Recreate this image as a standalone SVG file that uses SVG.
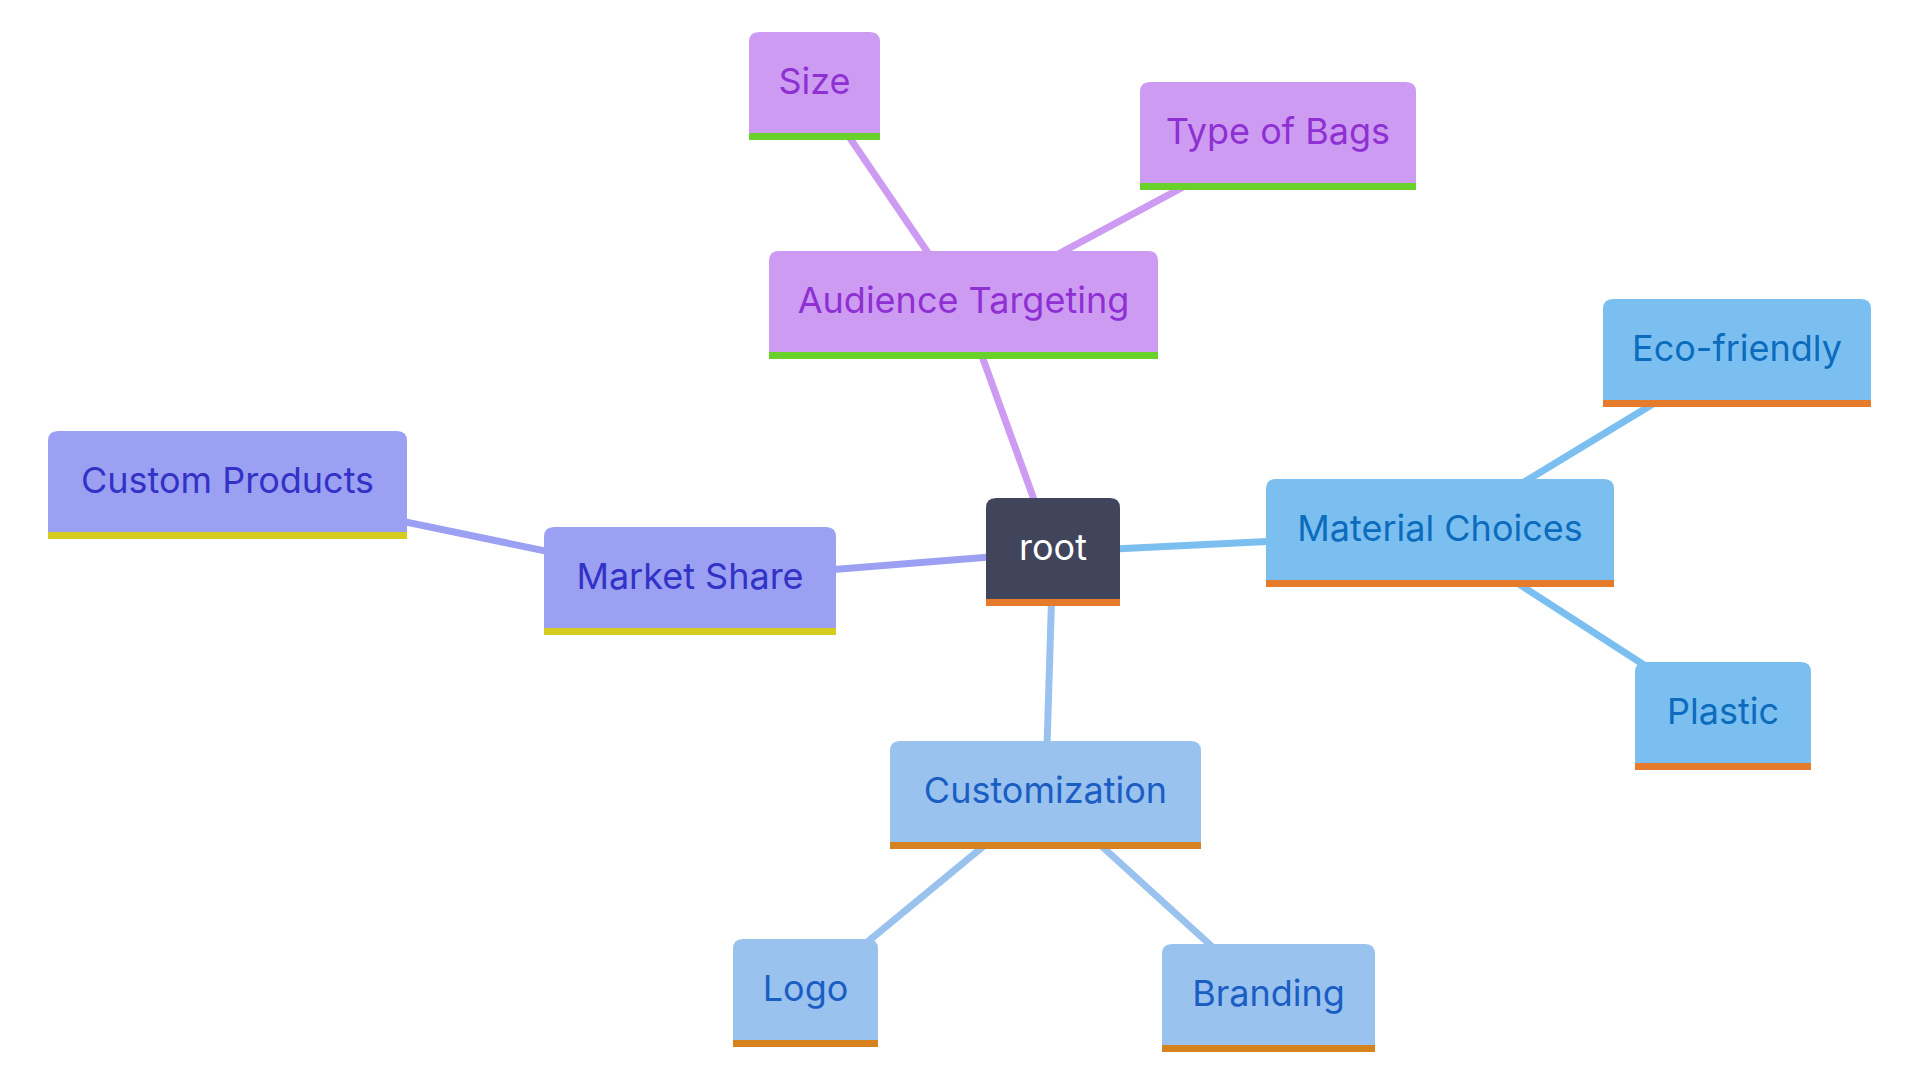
<svg xmlns="http://www.w3.org/2000/svg" width="1920" height="1080" viewBox="0 0 1920 1080">
<style>
text{font-family:Inter,"Noto Sans","Liberation Sans",sans-serif;font-size:36px;text-anchor:middle}
.edge{fill:none;stroke-width:7;stroke-linecap:butt}
.e-purple{stroke:#CD9CF2}
.e-blue{stroke:#7BBFF0}
.e-lblue{stroke:#9AC2EE}
.e-indigo{stroke:#9BA0F2}
.purple .bg{fill:#CD9CF2}.purple .bar{fill:#69D12A}.purple text{fill:#8E30D2}
.blue .bg{fill:#7BBFF0}.blue .bar{fill:#E67B2B}.blue text{fill:#0B6CBD}
.lblue .bg{fill:#9AC2EE}.lblue .bar{fill:#D5821F}.lblue text{fill:#1A5EC4}
.indigo .bg{fill:#9BA0F2}.indigo .bar{fill:#D6CB1F}.indigo text{fill:#3232C6}
.root .bg{fill:#41455C}.root .bar{fill:#E67B2B}.root text{fill:#FFFFFF}
</style>
<rect width="1920" height="1080" fill="#FFFFFF"/>
<g id="connectors">
<line class="edge e-purple" x1="1053" y1="552" x2="963.5" y2="305"/>
<line class="edge e-purple" x1="963.5" y1="305" x2="814.5" y2="86"/>
<line class="edge e-purple" x1="963.5" y1="305" x2="1278" y2="136"/>
<line class="edge e-blue" x1="1053" y1="552" x2="1440" y2="533"/>
<line class="edge e-blue" x1="1440" y1="533" x2="1737" y2="353"/>
<line class="edge e-blue" x1="1440" y1="533" x2="1723" y2="716"/>
<line class="edge e-lblue" x1="1053" y1="552" x2="1045.5" y2="795"/>
<line class="edge e-lblue" x1="1045.5" y1="795" x2="805.5" y2="993"/>
<line class="edge e-lblue" x1="1045.5" y1="795" x2="1268.5" y2="998"/>
<line class="edge e-indigo" x1="1053" y1="552" x2="690" y2="581"/>
<line class="edge e-indigo" x1="690" y1="581" x2="227.5" y2="485"/>
</g>
<g id="node-root" class="root" transform="translate(986,498)">
<path class="bg" d="M0,101V10Q0,0 10,0H124Q134,0 134,10V101Z"/>
<rect class="bar" x="0" y="101" width="134" height="7"/>
<text x="67" y="62">root</text>
</g>
<g id="node-audience" class="purple" transform="translate(769,251)">
<path class="bg" d="M0,101V10Q0,0 10,0H379Q389,0 389,10V101Z"/>
<rect class="bar" x="0" y="101" width="389" height="7"/>
<text x="194.5" y="62">Audience Targeting</text>
</g>
<g id="node-size" class="purple" transform="translate(749,32)">
<path class="bg" d="M0,101V10Q0,0 10,0H121Q131,0 131,10V101Z"/>
<rect class="bar" x="0" y="101" width="131" height="7"/>
<text x="65.5" y="62">Size</text>
</g>
<g id="node-typeofbags" class="purple" transform="translate(1140,82)">
<path class="bg" d="M0,101V10Q0,0 10,0H266Q276,0 276,10V101Z"/>
<rect class="bar" x="0" y="101" width="276" height="7"/>
<text x="138" y="62">Type of Bags</text>
</g>
<g id="node-material" class="blue" transform="translate(1266,479)">
<path class="bg" d="M0,101V10Q0,0 10,0H338Q348,0 348,10V101Z"/>
<rect class="bar" x="0" y="101" width="348" height="7"/>
<text x="174" y="62">Material Choices</text>
</g>
<g id="node-eco" class="blue" transform="translate(1603,299)">
<path class="bg" d="M0,101V10Q0,0 10,0H258Q268,0 268,10V101Z"/>
<rect class="bar" x="0" y="101" width="268" height="7"/>
<text x="134" y="62">Eco-friendly</text>
</g>
<g id="node-plastic" class="blue" transform="translate(1635,662)">
<path class="bg" d="M0,101V10Q0,0 10,0H166Q176,0 176,10V101Z"/>
<rect class="bar" x="0" y="101" width="176" height="7"/>
<text x="88" y="62">Plastic</text>
</g>
<g id="node-customization" class="lblue" transform="translate(890,741)">
<path class="bg" d="M0,101V10Q0,0 10,0H301Q311,0 311,10V101Z"/>
<rect class="bar" x="0" y="101" width="311" height="7"/>
<text x="155.5" y="62">Customization</text>
</g>
<g id="node-logo" class="lblue" transform="translate(733,939)">
<path class="bg" d="M0,101V10Q0,0 10,0H135Q145,0 145,10V101Z"/>
<rect class="bar" x="0" y="101" width="145" height="7"/>
<text x="72.5" y="62">Logo</text>
</g>
<g id="node-branding" class="lblue" transform="translate(1162,944)">
<path class="bg" d="M0,101V10Q0,0 10,0H203Q213,0 213,10V101Z"/>
<rect class="bar" x="0" y="101" width="213" height="7"/>
<text x="106.5" y="62">Branding</text>
</g>
<g id="node-marketshare" class="indigo" transform="translate(544,527)">
<path class="bg" d="M0,101V10Q0,0 10,0H282Q292,0 292,10V101Z"/>
<rect class="bar" x="0" y="101" width="292" height="7"/>
<text x="146" y="62">Market Share</text>
</g>
<g id="node-customproducts" class="indigo" transform="translate(48,431)">
<path class="bg" d="M0,101V10Q0,0 10,0H349Q359,0 359,10V101Z"/>
<rect class="bar" x="0" y="101" width="359" height="7"/>
<text x="179.5" y="62">Custom Products</text>
</g>
</svg>
